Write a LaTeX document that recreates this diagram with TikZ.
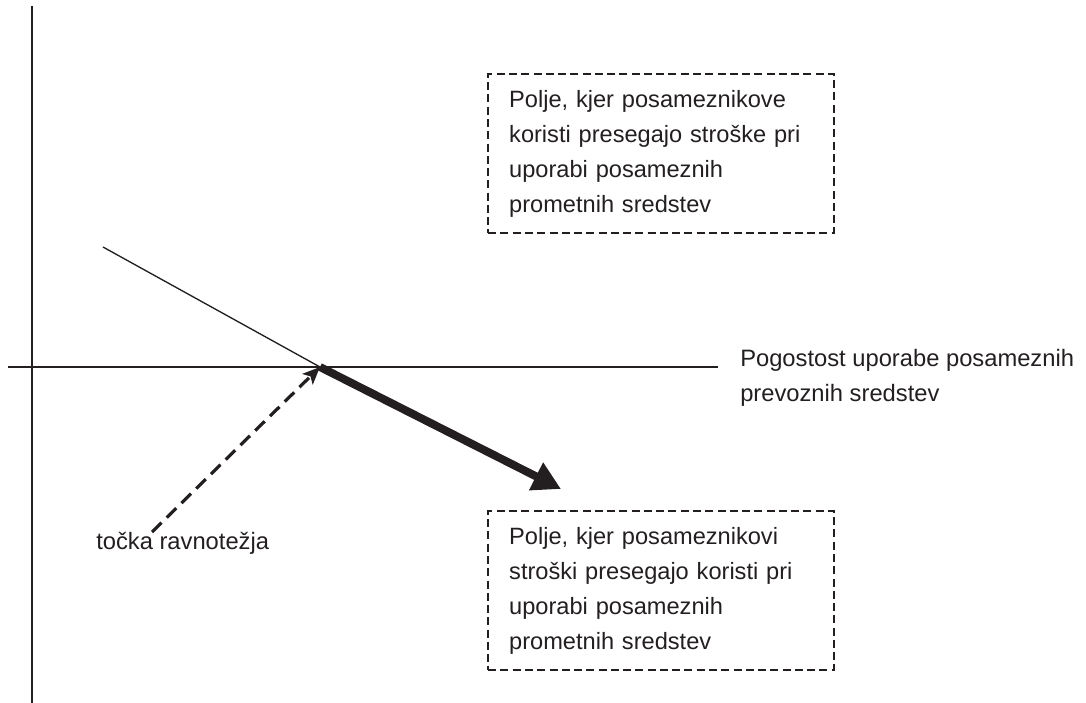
\documentclass[tikz,border=0pt]{standalone}
\usepackage{fontspec}
\setmainfont{Liberation Sans}
\usetikzlibrary{arrows.meta}
\definecolor{ink}{HTML}{231F20}
\begin{document}
\begin{tikzpicture}[x=0.75pt,y=-0.75pt,
  axis/.style={draw=ink,line width=1.2pt},
  thin/.style={draw=ink,line width=1pt},
  fieldbox/.style={draw=ink,dash pattern=on 6pt off 3.2pt,line width=1.8pt,
    minimum width=259.5pt,minimum height=119pt,text width=228pt,align=left,
    anchor=north west,inner sep=0pt,font=\fontsize{17.7}{26.2}\selectfont,text=ink},
  lbl/.style={anchor=west,align=left,inner sep=0pt,font=\fontsize{17.8}{26.2}\selectfont,text=ink},
  eqarrow/.style={draw=ink,line width=2.4pt,dash pattern=on 10pt off 5.5pt,
    -{Stealth[length=13pt,width=11pt,inset=3pt]}},
  bigarrow/.style={draw=ink,line width=6pt,-{Triangle[length=21pt,width=22pt]}}]
\useasboundingbox (0,0) rectangle (1086,703);
\coordinate (ytop) at (32,6);
\coordinate (ybot) at (32,703);
\coordinate (xleft) at (8,367);
\coordinate (xright) at (718,367);
\coordinate (lstart) at (103,247);
\coordinate (eq) at (320,367);
\coordinate (tip) at (561,489);
\coordinate (dstart) at (152,532);
\draw[axis] (ytop) -- (ybot);
\draw[axis] (xleft) -- (xright);
\draw[thin] (lstart) -- (eq);
\draw[bigarrow] (eq) -- (tip);
\draw[eqarrow] (dstart) -- (eq);
\node[fieldbox] (top) at (487,73) {Polje, kjer posameznikove\\koristi presegajo stroške pri\\uporabi posameznih\\prometnih sredstev};
\node[fieldbox] (bot) at (487,510) {Polje, kjer posameznikovi\\stroški presegajo koristi pri\\uporabi posameznih\\prometnih sredstev};
\node[lbl] (xlab) at (740,378) {Pogostost uporabe posameznih\\prevoznih sredstev};
\node[lbl] (eqlab) at (96,543) {točka ravnotežja};
\end{tikzpicture}
\end{document}
